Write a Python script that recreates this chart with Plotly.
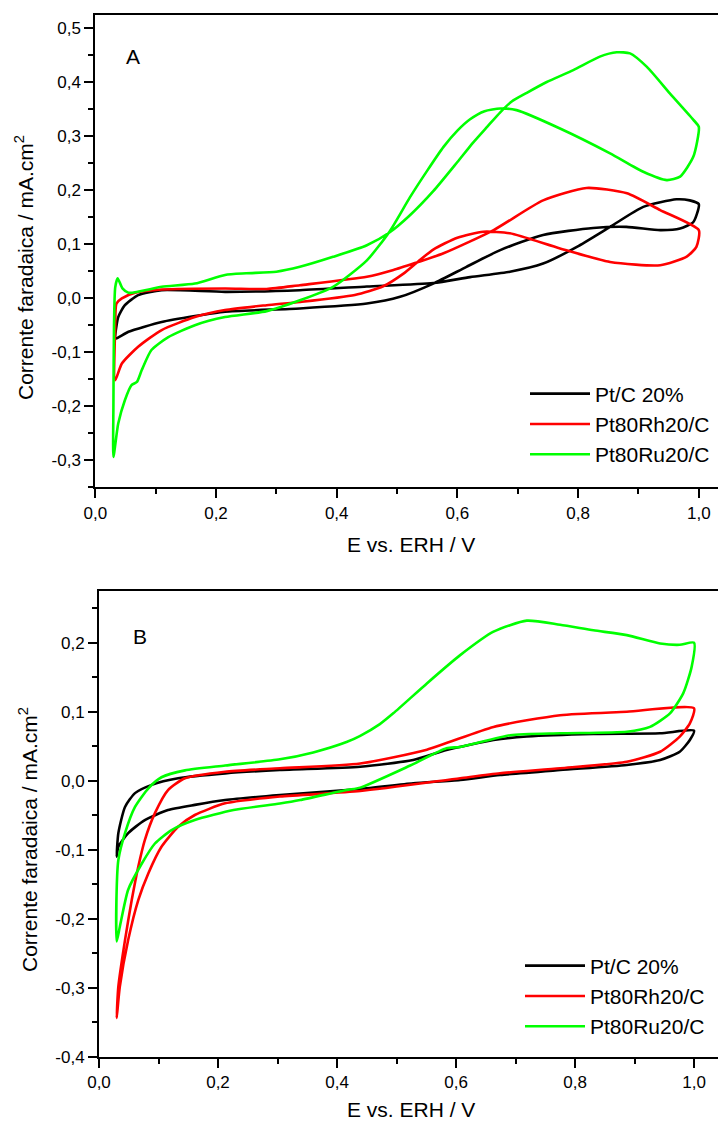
import plotly.graph_objects as go

# ---------------- Panel A data ----------------
E_A_pt = [0.033, 0.055, 0.11, 0.165, 0.215, 0.339, 0.45, 0.505, 0.56, 0.615, 0.671, 0.742, 0.825, 0.88, 0.936,
          0.969, 0.991, 1.0, 0.985, 0.963, 0.908, 0.853, 0.798, 0.742, 0.687, 0.621, 0.56, 0.45, 0.339, 0.215,
          0.11, 0.071, 0.049, 0.038, 0.033, 0.033]
I_A_pt = [-0.075, -0.062, -0.044, -0.033, -0.025, -0.019, -0.010, 0.0025, 0.027, 0.058, 0.089, 0.117, 0.130, 0.132,
          0.126, 0.129, 0.141, 0.174, 0.181, 0.183, 0.169, 0.132, 0.095, 0.064, 0.049, 0.039, 0.028, 0.0216, 0.0148,
          0.0117, 0.0148, 0.0056, -0.013, -0.035, -0.0685, -0.075]

E_A_rh = [0.033, 0.044, 0.071, 0.11, 0.165, 0.215, 0.284, 0.339, 0.43, 0.477, 0.51, 0.535, 0.56, 0.6, 0.643, 0.687,
          0.77, 0.853, 0.936, 0.98, 0.996, 1.0, 0.936, 0.881, 0.814, 0.742, 0.66, 0.577, 0.535, 0.494, 0.45, 0.339,
          0.284, 0.215, 0.11, 0.066, 0.044, 0.035, 0.033, 0.033]
I_A_rh = [-0.152, -0.121, -0.090, -0.059, -0.035, -0.022, -0.013, -0.007, 0.006, 0.022, 0.045, 0.068, 0.09, 0.112,
          0.123, 0.12, 0.092, 0.067, 0.061, 0.077, 0.095, 0.126, 0.163, 0.194, 0.204, 0.181, 0.126, 0.083, 0.067,
          0.052, 0.0395, 0.024, 0.017, 0.018, 0.016, 0.0099, -0.0005, -0.010, -0.05, -0.152]

E_A_ru = [0.030, 0.038, 0.049, 0.060, 0.069, 0.077, 0.093, 0.121, 0.165, 0.215, 0.284, 0.339, 0.394, 0.45, 0.488,
          0.521, 0.55, 0.577, 0.6, 0.621, 0.645, 0.671, 0.698, 0.77, 0.853, 0.908, 0.947, 0.969, 0.991, 1.0,
          0.991, 0.952, 0.914, 0.886, 0.864, 0.836, 0.792, 0.748, 0.715, 0.69, 0.671, 0.65, 0.626, 0.6, 0.56, 0.52,
          0.488, 0.45, 0.394, 0.339, 0.3, 0.25, 0.215, 0.165, 0.11, 0.055, 0.045, 0.037, 0.033, 0.031, 0.030, 0.030]
I_A_ru = [-0.294, -0.232, -0.189, -0.161, -0.155, -0.133, -0.096, -0.072, -0.050, -0.035, -0.024, -0.004, 0.021,
          0.07, 0.124, 0.186, 0.236, 0.28, 0.31, 0.331, 0.346, 0.351, 0.348, 0.314, 0.268, 0.234, 0.2185, 0.225,
          0.262, 0.317, 0.33, 0.379, 0.428, 0.453, 0.455, 0.447, 0.422, 0.40, 0.38, 0.364, 0.344, 0.318, 0.288,
          0.252, 0.198, 0.152, 0.122, 0.098, 0.0765, 0.058, 0.049, 0.046, 0.043, 0.027, 0.021, 0.0099, 0.018, 0.037,
          0.02, -0.05, -0.2, -0.294]

# ---------------- Panel B data ----------------
E_B_pt = [0.0297, 0.0325, 0.0437, 0.0605, 0.0886, 0.133, 0.212, 0.304, 0.439, 0.528, 0.584, 0.663, 0.719, 0.831,
          0.943, 1.0, 0.993, 0.976, 0.943, 0.887, 0.775, 0.674, 0.607, 0.528, 0.439, 0.304, 0.212, 0.161, 0.116,
          0.077, 0.049, 0.0325, 0.0297]
I_B_pt = [-0.110, -0.076, -0.038, -0.018, -0.006, 0.0035, 0.0107, 0.0155, 0.0203, 0.030, 0.0445, 0.059, 0.064,
          0.0677, 0.0687, 0.0725, 0.059, 0.042, 0.030, 0.0228, 0.0155, 0.0083, 0.001, -0.0038, -0.012, -0.0207,
          -0.028, -0.035, -0.0425, -0.057, -0.076, -0.0957, -0.110]

E_B_rh = [0.0297, 0.0325, 0.0437, 0.055, 0.066, 0.077, 0.094, 0.116, 0.1445, 0.212, 0.304, 0.439, 0.551, 0.663,
          0.775, 0.887, 1.0, 0.993, 0.976, 0.943, 0.887, 0.775, 0.674, 0.607, 0.439, 0.304, 0.212, 0.161, 0.133,
          0.105, 0.083, 0.066, 0.049, 0.035, 0.0297]
I_B_rh = [-0.344, -0.2985, -0.231, -0.173, -0.1246, -0.086, -0.047, -0.0135, 0.0035, 0.013, 0.018, 0.025, 0.045,
          0.078, 0.095, 0.100, 0.105, 0.083, 0.064, 0.042, 0.0275, 0.018, 0.0107, 0.0035, -0.015, -0.023, -0.0328,
          -0.0497, -0.0667, -0.0957, -0.134, -0.173, -0.231, -0.2985, -0.344]

E_B_ru = [0.0297, 0.0297, 0.0325, 0.0437, 0.0605, 0.083, 0.105, 0.1445, 0.212, 0.304, 0.36, 0.416, 0.439, 0.472,
          0.495, 0.551, 0.607, 0.663, 0.719, 0.775, 0.831, 0.887, 0.943, 0.976, 1.0, 0.996, 0.982, 0.96, 0.926,
          0.887, 0.775, 0.691, 0.607, 0.584, 0.523, 0.439, 0.416, 0.338, 0.304, 0.226, 0.161, 0.122, 0.094, 0.072,
          0.049, 0.035, 0.0297]
I_B_ru = [-0.233, -0.158, -0.115, -0.076, -0.038, -0.011, 0.005, 0.015, 0.022, 0.031, 0.041, 0.056, 0.065, 0.082,
          0.098, 0.141, 0.182, 0.216, 0.232, 0.226, 0.218, 0.211, 0.199, 0.197, 0.2, 0.165, 0.127, 0.098, 0.078,
          0.071, 0.0687, 0.066, 0.049, 0.047, 0.022, -0.01, -0.0135, -0.028, -0.033, -0.0425, -0.057, -0.0715,
          -0.091, -0.12, -0.158, -0.2116, -0.233]

series_names = ["Pt/C 20%", "Pt80Rh20/C", "Pt80Ru20/C"]
series_colors = ["#000000", "#ff0000", "#00ff00"]

x_tickvals = [0.0, 0.2, 0.4, 0.6, 0.8, 1.0]
x_ticktext = ["0,0", "0,2", "0,4", "0,6", "0,8", "1,0"]
x_minor = [0.1, 0.3, 0.5, 0.7, 0.9]

yA_tickvals = [-0.3, -0.2, -0.1, 0.0, 0.1, 0.2, 0.3, 0.4, 0.5]
yA_ticktext = ["-0,3", "-0,2", "-0,1", "0,0", "0,1", "0,2", "0,3", "0,4", "0,5"]
yA_minor = [-0.35, -0.25, -0.15, -0.05, 0.05, 0.15, 0.25, 0.35, 0.45]

yB_tickvals = [-0.4, -0.3, -0.2, -0.1, 0.0, 0.1, 0.2]
yB_ticktext = ["-0,4", "-0,3", "-0,2", "-0,1", "0,0", "0,1", "0,2"]
yB_minor = [-0.35, -0.25, -0.15, -0.05, 0.05, 0.15, 0.25]

FONT = "Liberation Sans, Arial, sans-serif"
W, H = 718, 1122

fig = go.Figure()
panelA = [(E_A_pt, I_A_pt), (E_A_rh, I_A_rh), (E_A_ru, I_A_ru)]
panelB = [(E_B_pt, I_B_pt), (E_B_rh, I_B_rh), (E_B_ru, I_B_ru)]
for (E, I), name, col in zip(panelA, series_names, series_colors):
    fig.add_trace(go.Scatter(x=E, y=I, mode="lines", name=name, xaxis="x", yaxis="y", legend="legend",
                             line=dict(color=col, width=2.6, shape="spline", smoothing=0.6)))
for (E, I), name, col in zip(panelB, series_names, series_colors):
    fig.add_trace(go.Scatter(x=E, y=I, mode="lines", name=name, xaxis="x2", yaxis="y2", legend="legend2",
                             line=dict(color=col, width=2.6, shape="spline", smoothing=0.6)))


def xax(domain, rng, anchor):
    return dict(domain=domain, range=rng, anchor=anchor, showline=True, linecolor="black", linewidth=2,
                mirror=True, ticks="outside", ticklen=9, tickwidth=2, tickcolor="black",
                tickmode="array", tickvals=x_tickvals, ticktext=x_ticktext, automargin=False,
                minor=dict(tickmode="array", tickvals=x_minor, ticks="outside", ticklen=5, tickwidth=2,
                           tickcolor="black"),
                showgrid=False, zeroline=False, tickfont=dict(family=FONT, size=17, color="black"))


def yax(domain, rng, anchor, tv, tt, mn):
    return dict(domain=domain, range=rng, anchor=anchor, showline=True, linecolor="black", linewidth=2,
                mirror=False, ticks="outside", ticklen=9, tickwidth=2, tickcolor="black",
                tickmode="array", tickvals=tv, ticktext=tt, automargin=False,
                minor=dict(tickmode="array", tickvals=mn, ticks="outside", ticklen=5, tickwidth=2,
                           tickcolor="black"),
                showgrid=False, zeroline=False, tickfont=dict(family=FONT, size=17, color="black"))


fig.update_layout(
    width=W, height=H, margin=dict(l=0, r=0, t=0, b=0, autoexpand=False),
    paper_bgcolor="white", plot_bgcolor="white",
    font=dict(family=FONT, color="black"),
    xaxis=xax([95.3 / W, 1.0], [0, 1.0318], "y"),
    yaxis=yax([1 - 487.3 / H, 1 - 14.7 / H], [-0.35, 0.5246], "x", yA_tickvals, yA_ticktext, yA_minor),
    xaxis2=xax([99 / W, 1.0], [0, 1.0403], "y2"),
    yaxis2=yax([1 - 1056.7 / H, 1 - 590.7 / H], [-0.4, 0.2754], "x2", yB_tickvals, yB_ticktext, yB_minor),
    legend=dict(x=525 / W, y=1 - 424 / H, xanchor="left", yanchor="middle", bgcolor="rgba(0,0,0,0)",
                borderwidth=0, itemwidth=60, font=dict(family=FONT, size=21, color="black"), tracegroupgap=0),
    legend2=dict(x=520 / W, y=1 - 996 / H, xanchor="left", yanchor="middle", bgcolor="rgba(0,0,0,0)",
                 borderwidth=0, itemwidth=60, font=dict(family=FONT, size=21, color="black"), tracegroupgap=0),
    showlegend=True,
)

ann = [
    dict(text="A", x=133 / W, y=1 - 57 / H),
    dict(text="B", x=140 / W, y=1 - 636 / H),
    dict(text="E vs. ERH / V", x=411 / W, y=1 - 544 / H),
    dict(text="E vs. ERH / V", x=411 / W, y=1 - 1109 / H),
    dict(text="Corrente faradaica / mA.cm<sup>2</sup>", x=24 / W, y=1 - 268 / H, textangle=-90),
    dict(text="Corrente faradaica / mA.cm<sup>2</sup>", x=28 / W, y=1 - 840 / H, textangle=-90),
]
for a in ann:
    fig.add_annotation(xref="paper", yref="paper", showarrow=False, xanchor="center", yanchor="middle",
                       font=dict(family=FONT, size=21, color="black"), **a)

fig.write_html("out.html", config={"displayModeBar": False},
               post_script="document.body.style.margin='0';document.body.style.padding='0';"
                           "document.documentElement.style.overflow='hidden';")
